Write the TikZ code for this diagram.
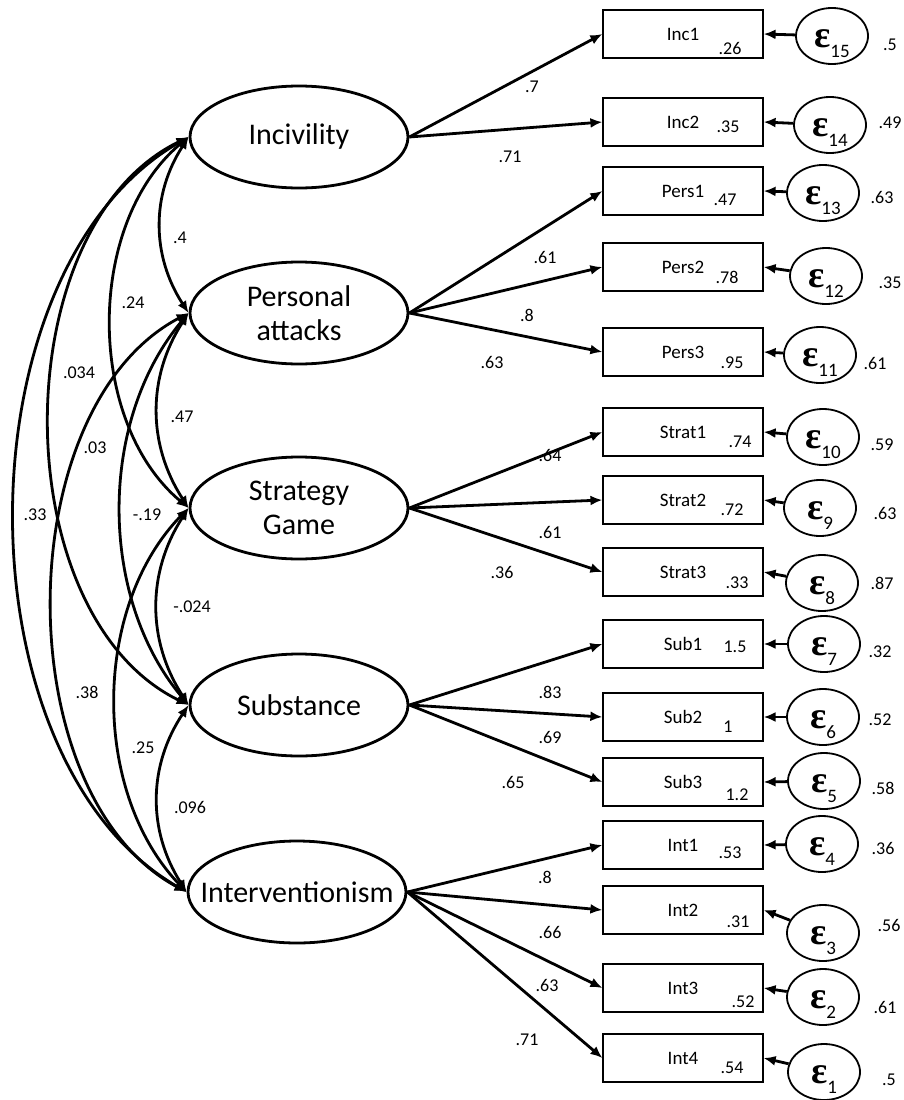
\documentclass[tikz,border=0pt]{standalone}
\usepackage{fontspec}
\setmainfont{Carlito}
\newfontfamily\epsbetu{Liberation Serif}
\usetikzlibrary{arrows.meta,shapes.geometric}
\tikzset{
  latens/.style={ellipse,draw,line width=2.8pt,minimum width=218pt,minimum height=102pt,inner sep=0pt,
                 align=center,font=\fontsize{30}{34}\selectfont},
  doboz/.style={draw,line width=1.2pt,minimum width=160pt,minimum height=48pt,inner sep=0pt,
                font=\fontsize{19}{19}\selectfont},
  hiba/.style={ellipse,draw,line width=1.8pt,minimum width=72pt,minimum height=56pt,inner sep=0pt,
               text height=23pt,text depth=0pt},
  nyil/.style={-{Latex[length=12pt,width=10pt]},line width=2.8pt},
  kovnyil/.style={{Latex[length=12pt,width=10pt]}-{Latex[length=12pt,width=10pt]},line width=2.8pt},
  cimke/.style={font=\fontsize{18}{18}\selectfont,inner sep=0pt},
}
\newcommand{\hibajel}[1]{{\epsbetu\bfseries\fontsize{38}{38}\selectfont ε}\raisebox{-10pt}{\fontsize{19}{19}\selectfont #1}}

\begin{document}
\begin{tikzpicture}[x=1pt,y=1pt]
  \useasboundingbox (0,0) rectangle (904,-1100);
  % latent variables
  \node[latens] (inc) at (299,-137) {Incivility};
  \node[latens] (pers) at (299,-313) {Personal\\attacks};
  \node[latens] (strat) at (299,-508) {Strategy\\Game};
  \node[latens] (subs) at (299,-705) {Substance};
  \node[latens] (intv) at (297,-892) {\makebox[0pt]{Interventionism}};
  % indicators
  \node[doboz] (inc1) at (683,-34) {Inc1};
  \node[doboz] (inc2) at (683,-122) {Inc2};
  \node[doboz] (pers1) at (683,-191) {Pers1};
  \node[doboz] (pers2) at (683,-267) {Pers2};
  \node[doboz] (pers3) at (683,-352) {Pers3};
  \node[doboz] (strat1) at (683,-432) {Strat1};
  \node[doboz] (strat2) at (683,-500) {Strat2};
  \node[doboz] (strat3) at (683,-572) {Strat3};
  \node[doboz] (sub1) at (683,-644) {Sub1};
  \node[doboz] (sub2) at (683,-717) {Sub2};
  \node[doboz] (sub3) at (683,-782) {Sub3};
  \node[doboz] (int1) at (683,-845) {Int1};
  \node[doboz] (int2) at (683,-910) {Int2};
  \node[doboz] (int3) at (683,-988) {Int3};
  \node[doboz] (int4) at (683,-1058) {Int4};
  % values in the boxes
  \node[cimke] at (730,-48) {.26};
  \node[cimke] at (728,-127) {.35};
  \node[cimke] at (725,-200) {.47};
  \node[cimke] at (727,-277) {.78};
  \node[cimke] at (732,-363) {.95};
  \node[cimke] at (740,-442) {.74};
  \node[cimke] at (732,-510) {.72};
  \node[cimke] at (737,-583) {.33};
  \node[cimke] at (735,-647) {1.5};
  \node[cimke] at (728,-727) {1};
  \node[cimke] at (737,-795) {1.2};
  \node[cimke] at (730,-853) {.53};
  \node[cimke] at (738,-922) {.31};
  \node[cimke] at (743,-1002) {.52};
  \node[cimke] at (732,-1068) {.54};
  % error terms
  \node[hiba] (e15) at (832,-36) {\hibajel{15}};
  \node[hiba] (e14) at (830,-125) {\hibajel{14}};
  \node[hiba] (e13) at (823,-193) {\hibajel{13}};
  \node[hiba] (e12) at (826,-276) {\hibajel{12}};
  \node[hiba] (e11) at (820,-355) {\hibajel{11}};
  \node[hiba] (e10) at (823,-437) {\hibajel{10}};
  \node[hiba] (e9) at (820,-508) {\hibajel{9}};
  \node[hiba] (e8) at (822,-583) {\hibajel{8}};
  \node[hiba] (e7) at (824,-644) {\hibajel{7}};
  \node[hiba] (e6) at (823,-717) {\hibajel{6}};
  \node[hiba] (e5) at (824,-781) {\hibajel{5}};
  \node[hiba] (e4) at (822,-844) {\hibajel{4}};
  \node[hiba] (e3) at (823,-933) {\hibajel{3}};
  \node[hiba] (e2) at (823,-997) {\hibajel{2}};
  \node[hiba] (e1) at (824,-1072) {\hibajel{1}};
  \draw[nyil] (e15) -- (inc1.east);
  \draw[nyil] (e14) -- (inc2.east);
  \draw[nyil] (e13) -- (pers1.east);
  \draw[nyil] (e12) -- (pers2.east);
  \draw[nyil] (e11) -- (pers3.east);
  \draw[nyil] (e10) -- (strat1.east);
  \draw[nyil] (e9) -- (strat2.east);
  \draw[nyil] (e8) -- (strat3.east);
  \draw[nyil] (e7) -- (sub1.east);
  \draw[nyil] (e6) -- (sub2.east);
  \draw[nyil] (e5) -- (sub3.east);
  \draw[nyil] (e4) -- (int1.east);
  \draw[nyil] (e3) -- (int2.east);
  \draw[nyil] (e2) -- (int3.east);
  \draw[nyil] (e1) -- (int4.east);
  % error variances
  \node[cimke] at (890,-45) {.5};
  \node[cimke] at (890,-123) {.49};
  \node[cimke] at (882,-197) {.63};
  \node[cimke] at (890,-283) {.35};
  \node[cimke] at (875,-363) {.61};
  \node[cimke] at (882,-445) {.59};
  \node[cimke] at (885,-513) {.63};
  \node[cimke] at (882,-583) {.87};
  \node[cimke] at (880,-652) {.32};
  \node[cimke] at (880,-720) {.52};
  \node[cimke] at (883,-788) {.58};
  \node[cimke] at (883,-848) {.36};
  \node[cimke] at (889,-925) {.56};
  \node[cimke] at (885,-1007) {.61};
  \node[cimke] at (889,-1080) {.5};
  % loadings
  \draw[nyil] (inc.east) -- (inc1.west);
  \draw[nyil] (inc.east) -- (inc2.west);
  \draw[nyil] (pers.east) -- (pers1.west);
  \draw[nyil] (pers.east) -- (pers2.west);
  \draw[nyil] (pers.east) -- (pers3.west);
  \draw[nyil] (strat.east) -- (strat1.west);
  \draw[nyil] (strat.east) -- (strat2.west);
  \draw[nyil] (strat.east) -- (strat3.west);
  \draw[nyil] (subs.east) -- (sub1.west);
  \draw[nyil] (subs.east) -- (sub2.west);
  \draw[nyil] (subs.east) -- (sub3.west);
  \draw[nyil] (intv.east) -- (int1.west);
  \draw[nyil] (intv.east) -- (int2.west);
  \draw[nyil] (intv.east) -- (int3.west);
  \draw[nyil] (intv.east) -- (int4.west);
  \node[cimke] at (532,-87) {.7};
  \node[cimke] at (510,-157) {.71};
  \node[cimke] at (545,-257) {.61};
  \node[cimke] at (527,-315) {.8};
  \node[cimke] at (492,-362) {.63};
  \node[cimke] at (550,-455) {.64};
  \node[cimke] at (550,-532) {.61};
  \node[cimke] at (502,-572) {.36};
  \node[cimke] at (550,-692) {.83};
  \node[cimke] at (550,-737) {.69};
  \node[cimke] at (513,-782) {.65};
  \node[cimke] at (545,-877) {.8};
  \node[cimke] at (550,-932) {.66};
  \node[cimke] at (547,-985) {.63};
  \node[cimke] at (527,-1040) {.71};
  % covariances
  \draw[kovnyil] (inc.west) to[bend right=33] (pers.west);
  \draw[kovnyil] (pers.west) to[bend right=33] (strat.west);
  \draw[kovnyil] (strat.west) to[bend right=33] (subs.west);
  \draw[kovnyil] (subs.west) to[bend right=33] (intv.west);
  \draw[kovnyil] (inc.west) to[bend right=50,looseness=0.93] (strat.west);
  \draw[kovnyil] (pers.west) to[bend right=40,looseness=0.92] (subs.west);
  \draw[kovnyil] (strat.west) to[bend right=44,looseness=0.92] (intv.west);
  \draw[kovnyil] (inc.west) to[bend right=64,looseness=0.93] (subs.west);
  \draw[kovnyil] (pers.west) to[bend right=62,looseness=0.9] (intv.west);
  \draw[kovnyil] (inc.west) to[bend right=60,looseness=0.9] (intv.west);
  \node[cimke] at (180,-238) {.4};
  \node[cimke] at (133,-303) {.24};
  \node[cimke] at (79,-373) {.034};
  \node[cimke] at (95,-448) {.03};
  \node[cimke] at (182,-417) {.47};
  \node[cimke] at (35,-515) {.33};
  \node[cimke] at (147,-515) {-.19};
  \node[cimke] at (192,-607) {-.024};
  \node[cimke] at (87,-692) {.38};
  \node[cimke] at (143,-748) {.25};
  \node[cimke] at (190,-807) {.096};
\end{tikzpicture}
\end{document}
